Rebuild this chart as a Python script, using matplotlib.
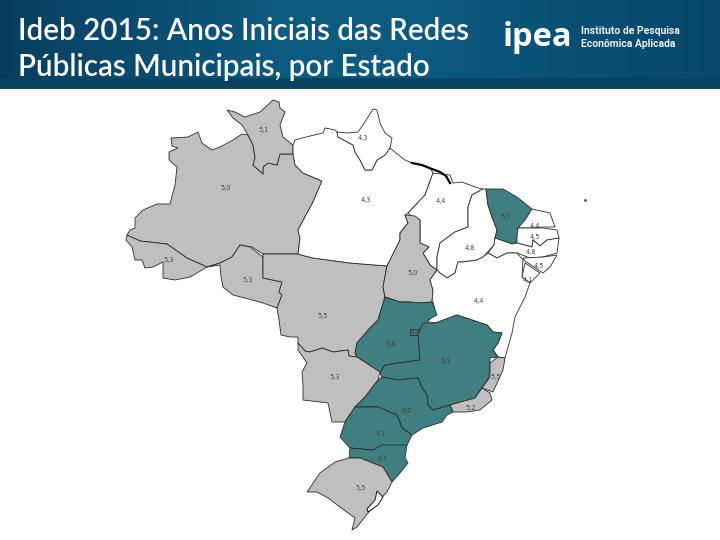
import numpy as np
import matplotlib
matplotlib.use("Agg")
import matplotlib.pyplot as plt
from matplotlib.patches import Polygon
from matplotlib.colors import LinearSegmentedColormap

TITLE_LINES = ["Ideb 2015: Anos Iniciais das Redes", "Públicas Municipais, por Estado"]
LOGO = "ipea"
LOGO_LINES = ["Instituto de Pesquisa", "Econômica Aplicada"]

# Ideb value per state
VALUES = {"RR": 5.1, "AM": 5.0, "AC": 5.3, "RO": 5.3, "MT": 5.5, "PA": 4.3, "AP": 4.3, "MA": 4.4,
          "TO": 5.0, "PI": 4.8, "CE": 5.7, "RN": 4.4, "PB": 4.5, "PE": 4.8, "AL": 4.5, "SE": 4.1,
          "BA": 4.4, "GO": 5.8, "DF": 5.8, "MG": 6.1, "ES": 5.5, "RJ": 5.2, "MS": 5.3, "SP": 6.2,
          "PR": 6.1, "SC": 6.1, "RS": 5.5}

# Geographic outlines, traced in reference-image pixels
SHAPES = {
 "AM": [(171,138),(188,137),(198,132),(202,143),(212,150),(220,147),(233,140),(242,134),(248,135),(253,145),(255,158),(253,165),(263,174),(263,167),(268,163),(277,165),(280,154),(293,154),(295,165),(303,173),(322,181),(313,202),(298,230),(300,238),(298,254),(263,254),(252,247),(240,245),(232,257),(220,263),(207,267),(187,258),(167,244),(140,241),(127,235),(130,230),(135,228),(135,218),(143,210),(157,204),(170,204),(175,185),(177,167),(169,160),(169,152),(178,148),(172,146)],
 "RR": [(227,110),(235,112),(245,117),(260,112),(273,100),(279,102),(280,108),(285,112),(280,125),(283,137),(293,145),(293,154),(280,154),(277,165),(268,163),(263,167),(263,174),(253,165),(255,158),(253,145),(248,135),(242,125),(233,118)],
 "AC": [(127,235),(140,241),(167,244),(187,258),(207,267),(190,277),(175,280),(163,278),(163,262),(153,267),(145,268),(142,260),(135,260),(132,247),(126,240)],
 "RO": [(207,267),(220,263),(232,257),(240,245),(250,247),(263,257),(263,278),(282,282),(279,292),(282,295),(277,308),(263,303),(245,298),(233,295),(223,287),(221,277),(220,265)],
 "MT": [(263,254),(298,254),(305,256),(313,258),(350,263),(387,266),(383,287),(385,297),(378,320),(370,328),(357,343),(355,353),(357,357),(349,356),(348,350),(333,352),(322,348),(310,352),(305,351),(298,343),(298,337),(290,337),(281,335),(279,320),(277,308),(282,295),(279,292),(282,282),(263,278)],
 "PA": [(293,145),(295,140),(310,136),(323,133),(325,128),(335,130),(337,132),(338,137),(353,145),(355,152),(360,160),(365,170),(372,170),(377,160),(385,155),(390,148),(396,153),(405,160),(412,163),(430,168),(433,173),(425,195),(408,213),(405,215),(408,223),(400,233),(400,240),(390,260),(387,266),(350,263),(313,258),(305,256),(298,254),(300,238),(298,230),(313,202),(322,181),(303,173),(295,165),(293,154)],
 "AP": [(337,132),(347,133),(358,132),(365,122),(373,109),(377,110),(380,123),(385,133),(392,138),(390,148),(385,155),(377,160),(372,170),(365,170),(360,160),(355,152),(353,145),(338,137)],
 "MA": [(433,173),(450,175),(453,183),(462,182),(478,188),(483,189),(472,195),(468,207),(468,227),(455,232),(440,243),(437,257),(437,270),(430,265),(423,253),(429,247),(420,243),(420,220),(410,215),(408,213),(425,195)],
 "TO": [(405,215),(415,216),(420,220),(420,243),(429,247),(423,253),(430,265),(437,270),(430,280),(433,290),(432,302),(420,303),(410,302),(400,302),(385,297),(383,287),(387,266),(390,260),(400,240),(400,233),(408,223)],
 "PI": [(483,189),(486,189),(488,205),(492,217),(497,230),(495,238),(494,245),(483,257),(477,260),(463,262),(458,262),(455,273),(447,278),(440,273),(437,270),(437,257),(440,243),(455,232),(468,227),(468,207),(472,195)],
 "CE": [(486,189),(503,189),(517,197),(532,209),(525,220),(518,228),(517,242),(512,244),(495,238),(497,230),(492,217),(488,205)],
 "RN": [(532,209),(550,213),(555,227),(543,227),(533,228),(518,228),(525,220)],
 "PB": [(518,228),(543,228),(557,230),(559,238),(547,240),(540,246),(533,240),(532,247),(517,243),(517,237)],
 "PE": [(495,238),(512,244),(517,243),(532,247),(533,240),(540,246),(547,240),(559,238),(557,253),(543,257),(530,258),(517,253),(507,253),(497,258),(488,253),(494,245)],
 "AL": [(523,258),(543,257),(557,255),(550,267),(543,273),(525,261)],
 "SE": [(525,263),(540,273),(530,283),(522,277)],
 "BA": [(437,270),(440,273),(447,278),(455,273),(458,262),(463,262),(477,260),(483,257),(488,253),(497,258),(507,253),(517,253),(523,260),(522,277),(530,283),(525,297),(515,317),(512,333),(505,358),(498,357),(493,350),(498,343),(502,333),(493,332),(487,325),(457,315),(437,323),(428,322),(435,310),(433,302),(432,302),(433,290),(430,280)],
 "GO": [(385,297),(400,302),(410,302),(420,303),(432,302),(435,310),(437,315),(428,320),(422,332),(418,333),(420,360),(385,365),(380,372),(357,357),(355,353),(357,343),(370,328),(378,320)],
 "DF": [(410,329),(419,329),(419,335),(410,335)],
 "MG": [(423,323),(435,323),(457,315),(487,325),(493,332),(502,333),(498,343),(493,350),(498,357),(490,358),(490,363),(489,377),(482,388),(475,398),(450,405),(433,410),(428,405),(427,395),(422,388),(418,378),(418,378),(397,380),(382,377),(380,373),(385,365),(420,360),(418,335),(420,330)],
 "ES": [(490,363),(498,357),(505,358),(503,370),(493,392),(482,388),(490,377)],
 "RJ": [(482,388),(490,393),(492,400),(480,410),(467,412),(453,412),(450,405),(475,398)],
 "MS": [(298,343),(305,351),(310,352),(322,348),(333,352),(348,350),(349,356),(357,357),(380,372),(378,380),(365,397),(355,407),(345,422),(332,422),(328,403),(303,400),(303,385),(302,372),(307,363),(298,350)],
 "SP": [(382,377),(397,380),(418,378),(422,388),(427,395),(428,405),(433,410),(450,405),(453,412),(447,415),(442,422),(423,428),(412,435),(402,428),(397,415),(378,407),(355,407),(365,397),(378,380)],
 "PR": [(355,407),(378,407),(397,415),(402,428),(412,435),(407,445),(382,447),(373,450),(350,448),(340,437),(345,422)],
 "SC": [(350,448),(373,450),(382,445),(407,445),(405,458),(408,463),(400,473),(392,482),(383,467),(360,458),(349,458)],
 "RS": [(349,458),(360,458),(383,467),(392,482),(387,492),(372,508),(357,527),(352,530),(355,518),(340,507),(328,498),(317,492),(307,492),(320,473),(335,462)],
}

# Label position per state, reference-image pixels
LABEL_XY = {"RR": (264,130), "AM": (226,188), "AC": (169,260), "RO": (248,280), "MT": (323,316), "PA": (366,200),
            "AP": (363,138), "MA": (441,201), "TO": (413,273), "PI": (470,248), "CE": (506,217), "RN": (535,226),
            "PB": (535,237), "PE": (531,252), "AL": (539,266), "SE": (528,280), "BA": (479,301), "GO": (391,344),
            "DF": (415,332), "MG": (446,361), "ES": (496,377), "RJ": (471,408), "MS": (335,377), "SP": (407,411),
            "PR": (381,434), "SC": (383,459), "RS": (361,488)}

HIGH_COLOR, MID_COLOR, LOW_COLOR = "#3f7f7f", "#bfbfbf", "#ffffff"

def fill_for(v):
    return HIGH_COLOR if v >= 5.7 else (MID_COLOR if v >= 5.0 else LOW_COLOR)

plt.rcParams["font.family"] = ["Lato", "DejaVu Sans"]
fig = plt.figure(figsize=(7.2, 5.4), dpi=100, facecolor="white")
ax = fig.add_axes([0, 0, 1, 1])
ax.set_xlim(0, 720); ax.set_ylim(540, 0); ax.axis("off")

cmap = LinearSegmentedColormap.from_list("hdr", ["#083f5f", "#0b4c70", "#0e5b80", "#0d5a80", "#0a4f73", "#08476a"])
ax.imshow(np.linspace(0, 1, 256)[None, :], cmap=cmap, extent=(0, 720, 78, 0), aspect="auto", zorder=1)
ax.add_patch(plt.Rectangle((0, 78), 720, 11, color="#0a4362", lw=0, zorder=2))
ax.set_xlim(0, 720); ax.set_ylim(540, 0)

for line_y, line in zip((31, 67), TITLE_LINES):
    ax.text(18, line_y, line, color="white", fontsize=21.3, fontweight="semibold", va="center", ha="left", zorder=5)
ax.text(503, 38, LOGO, color="white", fontsize=23.5, fontweight="bold", va="center", ha="left", family="Open Sans", zorder=5)
for line_y, line in zip((31, 44), LOGO_LINES):
    ax.text(581, line_y, line, color="#e8f0f4", fontsize=7.5, fontweight="bold", family="Roboto", va="center", ha="left", zorder=5)

for code, pts in SHAPES.items():
    ax.add_patch(Polygon(pts, closed=True, facecolor=fill_for(VALUES[code]), edgecolor="#2a2a2a", lw=0.6, joinstyle="round", zorder=3))

# Amazon mouth coast, Lagoa dos Patos
coast_x = [412, 422, 432, 440, 446, 450]
coast_y = [163, 165, 169, 172, 176, 183]
ax.plot(coast_x, coast_y, color="black", lw=1.6, zorder=4)
ax.add_patch(Polygon([(377,491),(383,497),(378,505),(368,512),(367,509),(375,500)], closed=True, facecolor="white", edgecolor="#111111", lw=0.7, zorder=4))
ax.plot([585], [200], marker="s", ms=1, color="#555555", zorder=4)

for code, (x, y) in LABEL_XY.items():
    ax.text(x, y, f"{VALUES[code]:.1f}".replace(".", ","), fontsize=4.8, color="#444444", ha="center", va="center", family="DejaVu Sans", zorder=6)

fig.savefig("out.png", dpi=100)
